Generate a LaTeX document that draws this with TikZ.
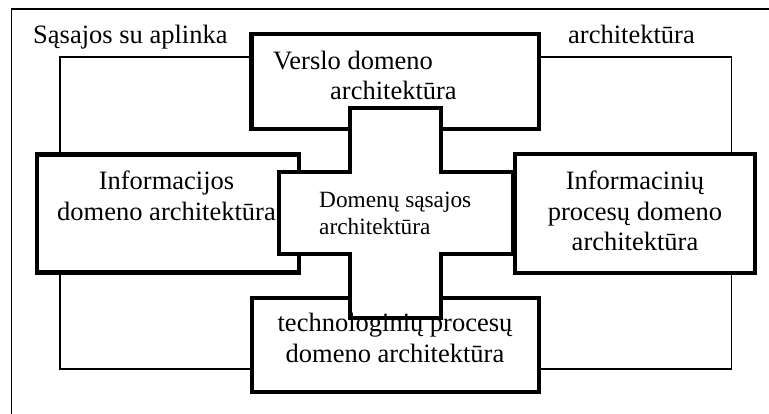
\documentclass[tikz,border=0pt]{standalone}
\usepackage{fontspec}
\setmainfont{Liberation Serif}
\begin{document}
\begin{tikzpicture}[x=1pt,y=-1pt,
        box/.style={draw,line width=4.2pt,fill=white,line join=miter},
        thin/.style={line width=1.6pt},
        big/.style={font=\fontsize{26.5}{30.5}\selectfont,inner sep=0pt},
        small/.style={font=\fontsize{23.3}{26.5}\selectfont,inner sep=0pt}]
        \useasboundingbox (0,0) rectangle (769,414);

        %outer frame and its labels
        \draw[thin] (769,9.3) -- (11.3,9.3) -- (11.3,414);
        \node[big,anchor=base west] (aplinka) at (33,44) {Sąsajos su aplinka};
        \node[big,anchor=base west] (archlbl) at (568,44) {architektūra};

        %thin frame joining the domains
        \draw[thin] (60,57.3) rectangle (731.3,369);

        %domain boxes
        \draw[box] (251.5,34) rectangle (539,128.7);
        \draw[box] (36.7,154.5) rectangle (299,272.5);
        \draw[box] (515,153.8) rectangle (754.8,273);
        \draw[box] (252,298) rectangle (539,392);

        %cross in the middle
        \draw[box] (350,108) -- (441.3,108) -- (441.3,172) -- (513,172)
            -- (513,253.7) -- (441.3,253.7) -- (441.3,317.7) -- (350,317.7)
            -- (350,253.7) -- (278.7,253.7) -- (278.7,172) -- (350,172) -- cycle;

        %texts (base = last line)
        \node[big,anchor=base west,align=left] (verslo) at (273,100)
            {Verslo domeno\\\hspace*{57pt}architektūra};
        \node[big,anchor=base,align=center] (infodom) at (166.5,220.5)
            {Informacijos\\domeno architektūra};
        \node[big,anchor=base,align=center] (infproc) at (635,251)
            {Informacinių\\procesų domeno\\architektūra};
        \node[big,anchor=base,align=center] (techn) at (395,362)
            {technologinių procesų\\domeno architektūra};
        \node[small,anchor=base west,align=left] (sasaja) at (319,234.5)
            {Domenų sąsajos\\architektūra};
    \end{tikzpicture}
\end{document}
